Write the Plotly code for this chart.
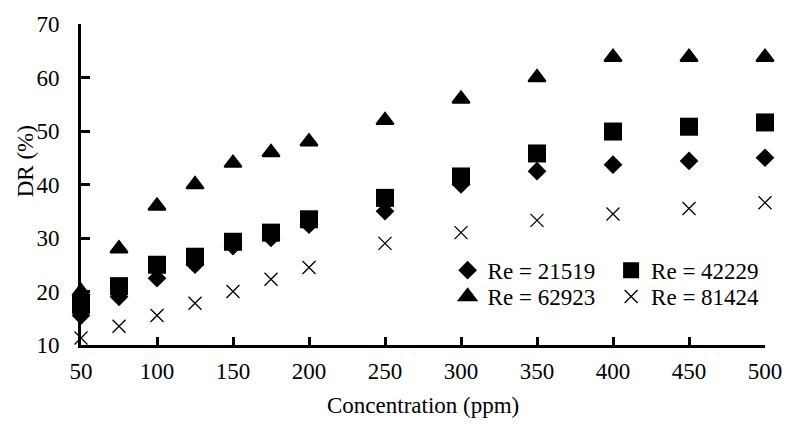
import plotly.graph_objects as go

conc = [50, 75, 100, 125, 150, 175, 200, 250, 300, 350, 400, 450, 500]
re_21519 = [15.5, 19.0, 22.5, 25.0, 28.5, 30.0, 32.5, 35.0, 40.0, 42.5, 43.7, 44.4, 45.0]
re_42229 = [17.5, 21.0, 25.0, 26.5, 29.3, 31.0, 33.5, 37.5, 41.5, 45.8, 49.9, 50.8, 51.6]
re_62923 = [20.0, 28.0, 36.0, 40.0, 44.0, 46.0, 48.0, 52.0, 56.0, 60.0, 63.8, 63.8, 63.8]
re_81424 = [11.3, 13.5, 15.5, 17.8, 20.0, 22.3, 24.5, 29.0, 31.0, 33.3, 34.5, 35.5, 36.6]

names = ["Re = 21519", "Re = 42229", "Re = 62923", "Re = 81424"]
x_ticks = [50, 100, 150, 200, 250, 300, 350, 400, 450, 500]
y_ticks = [10, 20, 30, 40, 50, 60, 70]

FONT = "Liberation Serif"
FS = 23

fig = go.Figure()
fig.add_trace(go.Scatter(x=conc, y=re_21519, mode="markers", name=names[0],
                         marker=dict(symbol="diamond", size=14.4, color="black"),
                         cliponaxis=False, legend="legend", showlegend=True))
fig.add_trace(go.Scatter(x=conc, y=re_42229, mode="markers", name=names[1],
                         marker=dict(symbol="square", size=18, color="black"),
                         cliponaxis=False, legend="legend2", showlegend=True))
fig.add_trace(go.Scatter(x=conc, y=re_62923, mode="markers", name=names[2],
                         marker=dict(symbol="triangle-up", size=15, color="black",
                                     line=dict(width=2, color="black")),
                         cliponaxis=False, legend="legend3", showlegend=True))
fig.add_trace(go.Scatter(x=conc, y=re_81424, mode="markers", name=names[3],
                         marker=dict(symbol="x-thin", size=13, color="black",
                                     line=dict(width=1.3, color="black")),
                         cliponaxis=False, legend="legend4", showlegend=True))

legend_common = dict(font=dict(family=FONT, size=FS, color="black"),
                     bgcolor="rgba(0,0,0,0)", orientation="v",
                     xanchor="left", yanchor="top", itemwidth=30)
col1, col2 = 0.536, 0.775
row1, row2 = 0.300, 0.218
fig.update_layout(
    width=794, height=425,
    showlegend=True,
    margin=dict(l=81, r=21, t=16, b=80),
    plot_bgcolor="white", paper_bgcolor="white",
    font=dict(family=FONT, size=FS, color="black"),
    xaxis=dict(range=[50, 500], tickvals=x_ticks, ticktext=[str(v) for v in x_ticks],
               showgrid=False, zeroline=False, showline=True, linecolor="black",
               linewidth=3, ticks="inside", ticklen=8, tickwidth=3, tickcolor="black",
               ticklabelstandoff=3, tickfont=dict(family=FONT, size=FS, color="black")),
    yaxis=dict(range=[10, 70], tickvals=y_ticks, ticktext=[str(v) for v in y_ticks],
               showgrid=False, zeroline=False, showline=True, linecolor="black",
               linewidth=3, ticks="inside", ticklen=9, tickwidth=3, tickcolor="black",
               ticklabelstandoff=14, tickfont=dict(family=FONT, size=FS, color="black")),
    legend=dict(x=col1, y=row1, visible=True, **legend_common),
    legend2=dict(x=col2, y=row1, visible=True, **legend_common),
    legend3=dict(x=col1, y=row2, visible=True, **legend_common),
    legend4=dict(x=col2, y=row2, visible=True, **legend_common),
    annotations=[
        dict(text="Concentration (ppm)", xref="paper", yref="paper", x=0.5, y=-0.19,
             xanchor="center", yanchor="middle", showarrow=False,
             font=dict(family=FONT, size=FS, color="black")),
        dict(text="DR (%)", xref="paper", yref="paper", x=-0.081, y=0.571,
             xanchor="center", yanchor="middle", textangle=-90, showarrow=False,
             font=dict(family=FONT, size=FS, color="black")),
    ],
)

fig.write_html("out.html")
